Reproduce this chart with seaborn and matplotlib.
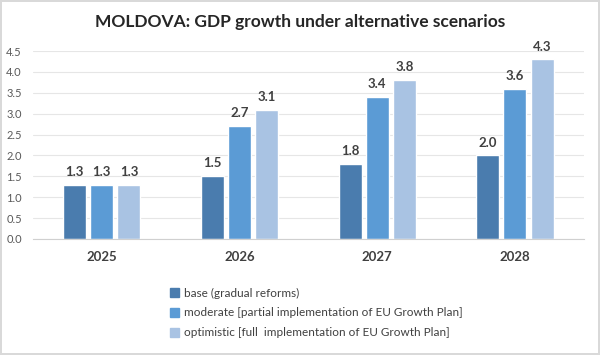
import numpy as np
import pandas as pd
import matplotlib
matplotlib.use("Agg")
import matplotlib.pyplot as plt
import seaborn as sns

years = ["2025", "2026", "2027", "2028"]
scenarios = ["base (gradual reforms)",
             "moderate [partial implementation of EU Growth Plan]",
             "optimistic [full  implementation of EU Growth Plan]"]
base = [1.3, 1.5, 1.8, 2.0]
moderate = [1.3, 2.7, 3.4, 3.6]
optimistic = [1.3, 3.1, 3.8, 4.3]
colors = ["#4a7cae", "#5b9bd5", "#a9c3e3"]

df = pd.DataFrame({
    "year": years * 3,
    "scenario": [scenarios[0]] * 4 + [scenarios[1]] * 4 + [scenarios[2]] * 4,
    "growth": base + moderate + optimistic,
})

sns.set_style("white")
plt.rcParams["font.family"] = ["Lato", "DejaVu Sans"]

fig = plt.figure(figsize=(6, 3.55), dpi=100, edgecolor="#d9d9d9", linewidth=1.5)
ax = fig.add_axes([0.055, 0.327, 0.918, 0.529])

sns.barplot(data=df, x="year", y="growth", hue="scenario", palette=colors,
            width=0.59, gap=0.15, ax=ax, legend=False, saturation=1)

for c in ax.containers:
    ax.bar_label(c, fmt="%.1f", padding=5, fontsize=9.5, fontweight="bold", color="#404040")

ax.set_ylim(0, 4.5)
ax.set_yticks(np.arange(0, 4.51, 0.5))
ax.set_yticklabels([f"{v:.1f}" for v in np.arange(0, 4.51, 0.5)])
ax.yaxis.grid(True, color="#e6e6e6", linewidth=0.8)
ax.set_axisbelow(True)
for s in ["top", "right", "left"]:
    ax.spines[s].set_visible(False)
ax.spines["bottom"].set_color("#d0d0d0")
ax.tick_params(axis="y", labelsize=8, colors="#595959", length=0, pad=8)
ax.tick_params(axis="x", labelsize=9.5, colors="#404040", length=0, pad=9)
for t in ax.get_xticklabels():
    t.set_fontweight("bold")
ax.set_xlabel("")
ax.set_ylabel("")

fig.suptitle("MOLDOVA: GDP growth under alternative scenarios", x=0.5, y=0.96,
             fontsize=12.5, fontweight="bold", color="#262626")

handles = [plt.Rectangle((0, 0), 1, 1, color=col) for col in colors]
fig.legend(handles, scenarios, loc="upper left", bbox_to_anchor=(0.265, 0.22),
           frameon=False, fontsize=8.5, handlelength=0.8, handleheight=0.8,
           handletextpad=0.4, labelspacing=0.75, labelcolor="#404040")

fig.savefig("out.png", dpi=100)
